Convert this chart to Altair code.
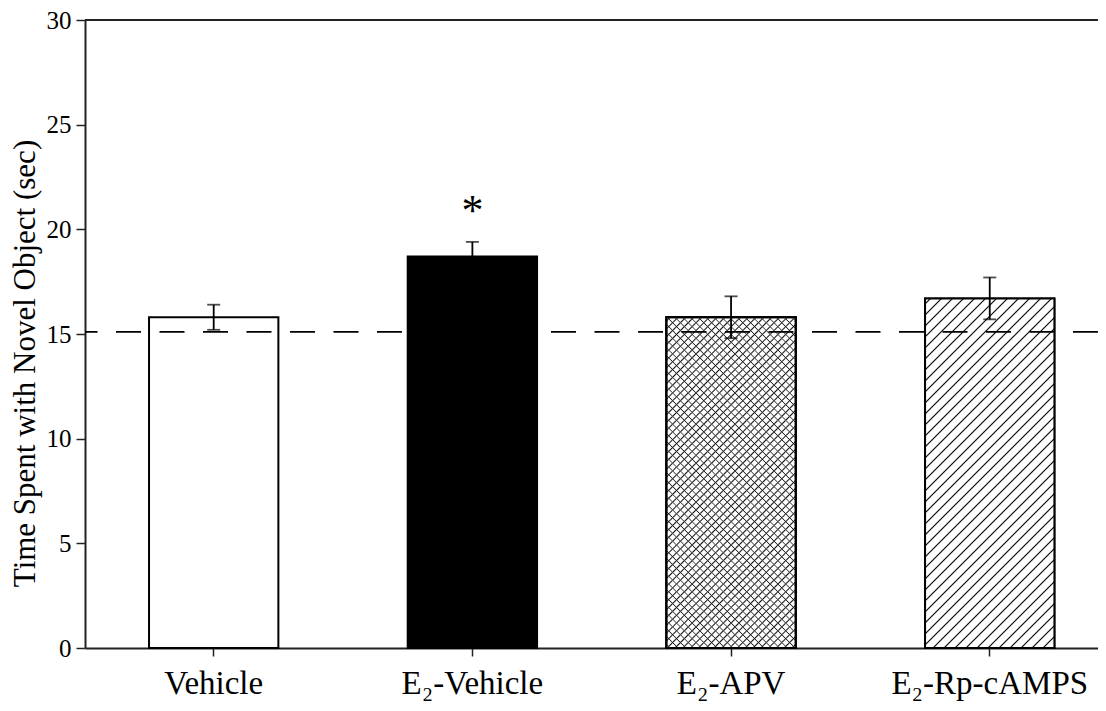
import altair as alt
import pandas as pd

# ---- data ----
groups = ["Vehicle", "E₂-Vehicle", "E₂-APV", "E₂-Rp-cAMPS"]
means = [15.8, 18.7, 15.8, 16.7]
sems = [0.6, 0.7, 1.0, 1.0]
marks = ["", "*", "", ""]
chance_level = 15.1
y_ticks = [0, 5, 10, 15, 20, 25, 30]
y_title = "Time Spent with Novel Object (sec)"

df = pd.DataFrame({
    "group": groups,
    "mean": means,
    "sem": sems,
    "mark": marks,
})
df["lo"] = df["mean"] - df["sem"]
df["hi"] = df["mean"] + df["sem"]

# ---- layout ----
W, H = 1013, 628
YMAX = 30
P_IN, P_OUT, ALIGN = 0.5, 0.208, 0.595
step = W / (len(groups) - P_IN + 2 * P_OUT)
bw = step * (1 - P_IN)
FONT = "Liberation Serif"


def hatch_gradient(h, spacing, direction, bg, ink="#111111", thick=1.5):
    """Diagonal stripe texture as an objectBoundingBox linear gradient."""
    w = bw
    k = (w + h) / (w * w + h * h)
    a, b = w * k, h * k
    L = w + h
    stops = [{"offset": 0, "color": bg}]
    d = thick / L
    c = spacing / L / 2
    while c + d < 1:
        stops.append({"offset": round(c - d, 5), "color": bg})
        stops.append({"offset": round(c, 5), "color": ink})
        stops.append({"offset": round(c + d, 5), "color": bg})
        c += spacing / L
    stops.append({"offset": 1, "color": bg})
    if direction == "up":  # lines like ///
        g = {"gradient": "linear", "x1": 0, "y1": 0, "x2": a, "y2": b}
    else:  # lines like \\\
        g = {"gradient": "linear", "x1": 0, "y1": 1, "x2": a, "y2": 1 - b}
    g["stops"] = stops
    return g


px_per_unit = H / YMAX

x_scale = alt.Scale(domain=groups, paddingInner=P_IN, paddingOuter=P_OUT, align=ALIGN)
y_scale = alt.Scale(domain=[0, YMAX], nice=False, zero=True)
x_axis = alt.Axis(title=None, labelAngle=0, labelLimit=0, labelOverlap=False)
y_axis = alt.Axis(values=y_ticks, title=y_title, titleX=-51, titleY=343,
                  titleAngle=-90, titleAlign="center", titleBaseline="alphabetic")


def X():
    return alt.X("group:N", sort=groups, scale=x_scale, axis=x_axis)


def Y(field):
    return alt.Y(field, scale=y_scale, axis=y_axis)


base = alt.Chart(df)

bars = base.mark_bar(stroke="black", strokeWidth=2).encode(
    x=X(), y=Y("mean:Q"),
    fill=alt.Fill("group:N", scale=alt.Scale(domain=groups,
                  range=["white", "black", "white", "white"]), legend=None),
)

layers = [bars]

# crosshatch for E2-APV
h_apv = means[2] * px_per_unit
apv = base.transform_filter(alt.datum.group == groups[2])
layers.append(apv.mark_bar(fill=hatch_gradient(h_apv, 7.8, "up", "white", thick=1.5),
                           stroke="black", strokeWidth=2).encode(x=X(), y=Y("mean:Q")))
layers.append(apv.mark_bar(fill=hatch_gradient(h_apv, 7.8, "down", "rgba(255,255,255,0)", thick=1.5),
                           stroke="black", strokeWidth=2).encode(x=X(), y=Y("mean:Q")))

# diagonal stripes for E2-Rp-cAMPS
h_rp = means[3] * px_per_unit
rp = base.transform_filter(alt.datum.group == groups[3])
layers.append(rp.mark_bar(fill=hatch_gradient(h_rp, 11, "up", "white"),
                          stroke="black", strokeWidth=2).encode(x=X(), y=Y("mean:Q")))

# error bars
err = base.mark_rule(color="black", strokeWidth=1.8).encode(
    x=X(), y=Y("lo:Q"), y2="hi:Q")
cap_hi = base.mark_tick(color="black", thickness=1.8, size=13).encode(x=X(), y=Y("hi:Q"))
cap_lo = base.mark_tick(color="black", thickness=1.8, size=13).encode(x=X(), y=Y("lo:Q"))
layers += [err, cap_hi, cap_lo]

# significance asterisk
star = base.mark_text(font=FONT, fontSize=44, color="black", baseline="middle",
                      dy=-30).encode(x=X(), y=Y("hi:Q"), text="mark:N")
layers.append(star)

# dashed reference line
dash = alt.Chart(pd.DataFrame({"v": [chance_level]})).mark_rule(
    color="black", strokeWidth=1.6, strokeDash=[25, 18.5]).encode(y=Y("v:Q"))
layers.append(dash)

# top frame line
top = alt.Chart(pd.DataFrame({"v": [YMAX]})).mark_rule(
    color="#222", strokeWidth=2).encode(y=Y("v:Q"))
layers.append(top)

chart = (
    alt.layer(*layers)
    .properties(
        width=W, height=H,
        autosize=alt.AutoSizeParams(type="none"),
        padding={"left": 77, "top": 12, "right": 0, "bottom": 55},
    )
    .configure_view(stroke=None)
    .configure(background="white")
    .configure_axis(
        labelFont=FONT, labelColor="black", titleFont=FONT, titleColor="black",
        titleFontWeight="normal", tickColor="#222", domainColor="#222",
        domainWidth=2, tickWidth=1.5, grid=False,
    )
    .configure_axisX(labelFontSize=33, labelPadding=11, tickSize=8)
    .configure_axisY(labelFontSize=25, labelPadding=5, tickSize=9, titleFontSize=31)
)

chart.save("out.html", embed_options={"renderer": "svg", "actions": False})
